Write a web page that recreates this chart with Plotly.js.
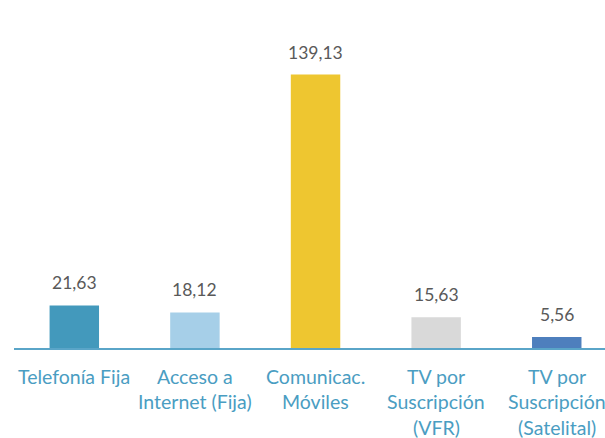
<!DOCTYPE html>
<html>
<head>
<meta charset="utf-8">
<script src="https://cdn.plot.ly/plotly-3.0.1.min.js"></script>
<style>html,body{margin:0;padding:0;background:#fff;}#chart{width:605px;height:438px;}</style>
</head>
<body>
<div id="chart"></div>
<script>
const categories = ["Telefonía Fija", "Acceso a Internet (Fija)", "Comunicac. Móviles", "TV por Suscripción (VFR)", "TV por Suscripción (Satelital)"];
const labelLines = [["Telefonía Fija"], ["Acceso a", "Internet (Fija)"], ["Comunicac.", "Móviles"], ["TV por", "Suscripción", "(VFR)"], ["TV por", "Suscripción", "(Satelital)"]];
const values = [21.63, 18.12, 139.13, 15.63, 5.56];
const valueLabels = ["21,63", "18,12", "139,13", "15,63", "5,56"];
const colors = ["#4399BC", "#A6CFE8", "#EEC630", "#D9D9D9", "#4E7FBD"];

const trace = {
  type: "bar",
  x: categories,
  y: values,
  marker: {color: colors},
  width: 0.41,
  hoverinfo: "none"
};

const annotations = [];
categories.forEach((c, i) => {
  annotations.push({
    x: c, y: values[i], xref: "x", yref: "y",
    text: valueLabels[i], showarrow: false,
    yanchor: "bottom", yshift: 11, borderpad: 0,
    font: {family: "Lato, 'Open Sans', sans-serif", size: 17.5, color: "#595959"}
  });
  labelLines[i].forEach((line, j) => {
    annotations.push({
      x: c, y: 0, xref: "x", yref: "paper",
      text: line, showarrow: false, borderpad: 0,
      yanchor: "middle", yshift: -28 - j * 25.5,
      font: {family: "Lato, 'Open Sans', sans-serif", size: 19.5, color: "#4A9DC2"}
    });
  });
});

const layout = {
  width: 605, height: 438,
  margin: {l: 14, r: 0, t: 10, b: 90},
  paper_bgcolor: "#fff", plot_bgcolor: "#fff",
  showlegend: false,
  xaxis: {
    type: "category", range: [-0.5, 4.4],
    showline: true, linecolor: "#5AA5C8", linewidth: 2,
    showticklabels: false, ticks: "", showgrid: false, zeroline: false, fixedrange: true
  },
  yaxis: {
    range: [0, 172], visible: false, showgrid: false, zeroline: false, fixedrange: true
  },
  annotations: annotations
};

Plotly.newPlot("chart", [trace], layout, {displayModeBar: false, staticPlot: true});
</script>
</body>
</html>
